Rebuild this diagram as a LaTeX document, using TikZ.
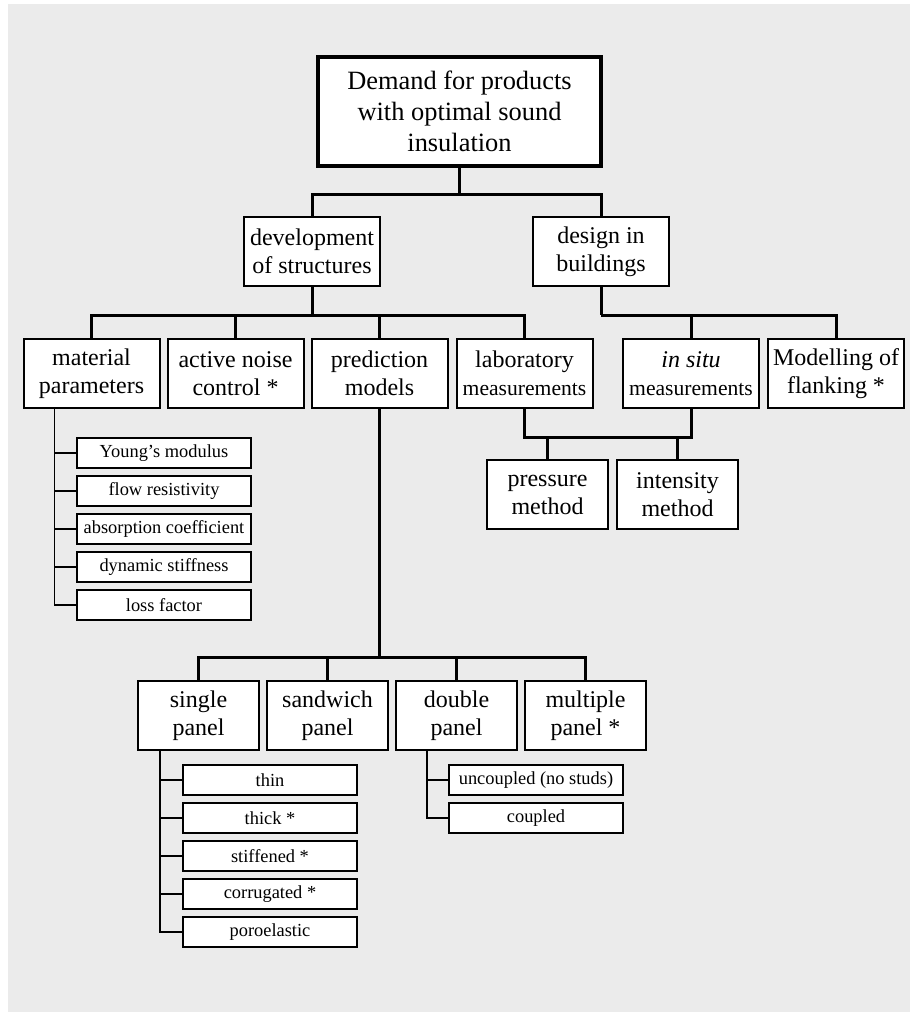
\documentclass[tikz,border=0pt]{standalone}
\usepackage{fontspec}
\setmainfont{Liberation Serif}
\usetikzlibrary{positioning}
\definecolor{panelgray}{HTML}{EBEBEB}
\newcommand{\measfont}{\fontsize{10.8}{13}\selectfont}

\begin{document}
\begin{tikzpicture}[x=0.5pt, y=-0.5pt, node distance=4pt and 4pt, every node/.style={font=\fontsize{12}{14}\selectfont}]
\tikzset{box/.style={draw, line width=1pt, align=center, minimum width=68pt, minimum height=34.5pt, inner sep=1pt, outer sep=0pt, fill=white}}
\tikzset{headbox/.style={box, line width=2pt, minimum width=141.5pt, minimum height=54.5pt, font=\fontsize{13.2}{15.5}\selectfont}}
\tikzset{panelbox/.style={box, minimum width=60.5pt}}
\tikzset{leafbox/.style={box, minimum width=87pt, minimum height=15pt, font=\fontsize{9.2}{11}\selectfont}}
\tikzset{trunk/.style={line width=1.5pt}}
\tikzset{twig/.style={line width=0.8pt}}
\useasboundingbox (0,0) rectangle (910,1012);
\fill[panelgray] (8,4) rectangle (910,1012);
\node[headbox] (demand) at (459.5,111.5) {Demand for products\\with optimal sound\\insulation};
\node[box] (develop) at (312,251.5) {development\\of structures};
\node[box] (design) at (601,251.5) {design in\\buildings};
\node[box] (material) at (91.5,373.5) {material\\parameters};
\node[box, right=of material] (active) {active noise\\control *};
\node[box, right=of active] (predict) {prediction\\models};
\node[box, right=4.5pt of predict] (lab) {laboratory\\{\measfont measurements}};
\node[box] (insitu) at (691,373.5) {\textit{in situ}\\{\measfont measurements}};
\node[box, right=4.5pt of insitu] (flanking) {Modelling of\\flanking *};
\node[panelbox] (pressure) at (547.5,494.5) {pressure\\method};
\node[panelbox, right=4.5pt of pressure] (intensity) {intensity\\method};
\node[leafbox] (young) at (164,453) {Young’s modulus};
\node[leafbox, below=of young] (flow) {flow resistivity};
\node[leafbox, below=of flow] (absorb) {absorption coefficient};
\node[leafbox, below=of absorb] (dynamic) {dynamic stiffness};
\node[leafbox, below=of dynamic] (loss) {loss factor};
\node[panelbox] (single) at (198.5,715.5) {single\\panel};
\node[panelbox, right=of single] (sandwich) {sandwich\\panel};
\node[panelbox, right=of sandwich] (double) {double\\panel};
\node[panelbox, right=of double] (multiple) {multiple\\panel *};
\node[leafbox] (thin) at (270,780) {thin};
\node[leafbox, below=of thin] (thick) {thick *};
\node[leafbox, below=of thick] (stiffened) {stiffened *};
\node[leafbox, below=of stiffened] (corrugated) {corrugated *};
\node[leafbox, below=of corrugated] (poro) {poroelastic};
\node[leafbox] (uncoupled) at (536,780) {uncoupled (no studs)};
\node[leafbox, below=of uncoupled] (coupled) {coupled};
\draw[trunk] (demand.south) -- ++(0,28) coordinate (fork);
\draw[trunk] (develop.north) |- (fork) -| (design.north);
\draw[trunk] (develop.south) -- ++(0,29) coordinate (forkA);
\foreach \n in {material,active,predict,lab} \draw[trunk] (forkA) -| (\n.north);
\draw[trunk] (design.south) -- ++(0,29) coordinate (forkB);
\foreach \n in {insitu,flanking} \draw[trunk] (forkB) -| (\n.north);
\draw[trunk] (lab.south) -- ++(0,29) coordinate (forkC) -| (insitu.south);
\foreach \n in {pressure,intensity} \draw[trunk] (\n.north) -- (\n.north |- forkC);
\draw[trunk] (predict.south) -- ++(0,249) coordinate (forkD);
\foreach \n in {single,sandwich,double,multiple} \draw[trunk] (forkD) -| (\n.north);
\draw[twig] ([xshift=15.5pt]material.south west) |- (loss.west);
\foreach \n in {young,flow,absorb,dynamic} \draw[twig] (\n.west) -- ++(-11.5pt,0);
\draw[twig] ([xshift=11pt]single.south west) |- (poro.west);
\foreach \n in {thin,thick,stiffened,corrugated} \draw[twig] (\n.west) -- ++(-11.5pt,0);
\draw[twig] ([xshift=15.5pt]double.south west) |- (coupled.west);
\draw[twig] (uncoupled.west) -- ++(-11pt,0);
\end{tikzpicture}
\end{document}
